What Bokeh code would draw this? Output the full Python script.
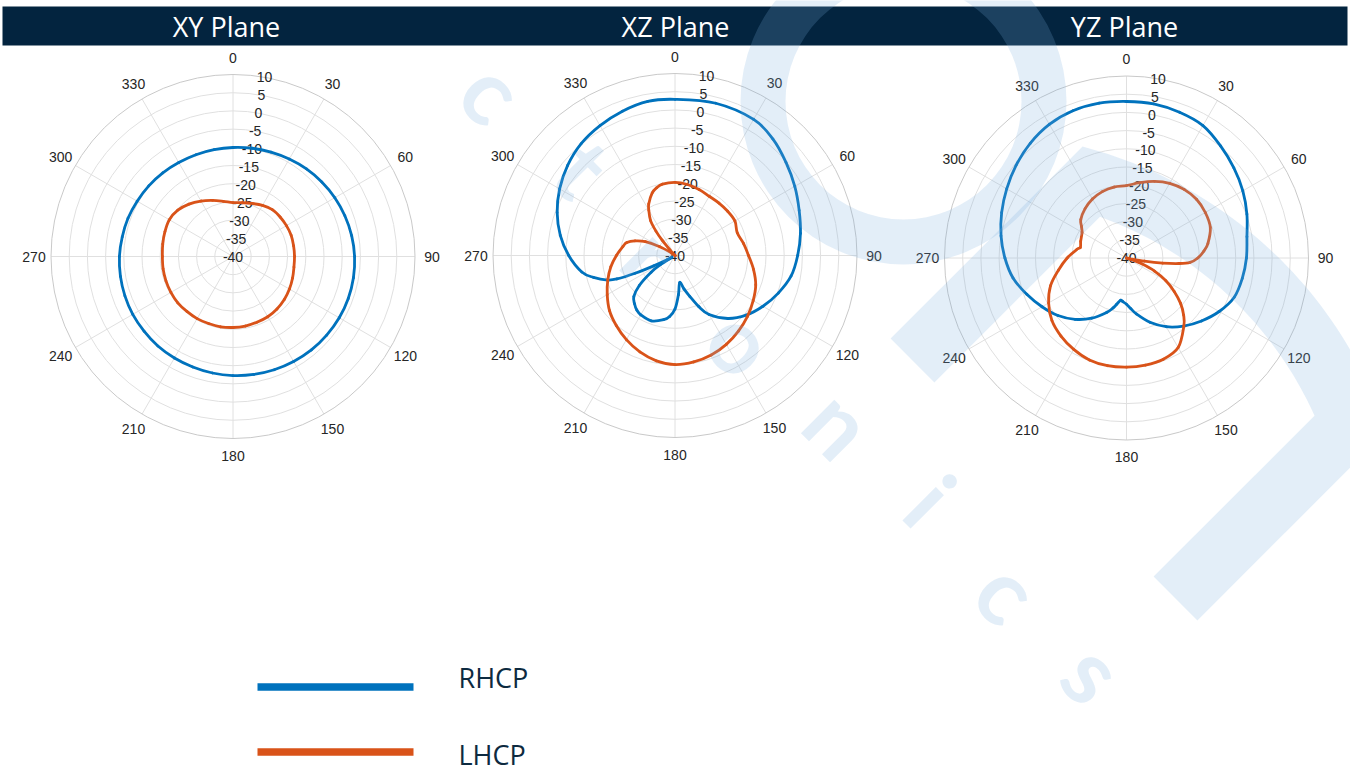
import numpy as np
from bokeh.plotting import figure
from bokeh.models import Range1d
from bokeh.embed import file_html
from bokeh.resources import INLINE
from bokeh.core.properties import value

# ---------------- data ----------------
plane_titles = ["XY Plane", "XZ Plane", "YZ Plane"]
series_names = ["RHCP", "LHCP"]
r_ticks = [10, 5, 0, -5, -10, -15, -20, -25, -30, -35, -40]
theta_ticks = [0, 30, 60, 90, 120, 150, 180, 210, 240, 270, 300, 330]

xy_rhcp_theta = list(range(0, 360, 10))
xy_rhcp_db = [-10.05, -9.8, -9.5, -9.1, -8.6, -8.15, -7.7, -7.3, -6.9, -6.6, -6.4, -6.3,
              -6.3, -6.4, -6.5, -6.7, -6.9, -7.1, -7.3, -7.5, -7.7, -7.8, -7.9, -8.1,
              -8.2, -8.4, -8.6, -8.8, -9.1, -9.3, -9.6, -9.8, -10.0, -10.2, -10.25, -10.2]

xy_lhcp_theta = list(range(0, 360, 10))
xy_lhcp_db = [-25.2, -25.0, -24.5, -23.8, -23.2, -23.1, -23.05, -23.0, -23.1, -23.1, -23.0, -22.6,
              -22.1, -21.6, -21.2, -20.9, -20.8, -20.6, -20.5, -20.4, -20.4, -20.3, -20.3, -20.2,
              -20.3, -20.4, -20.5, -20.6, -20.4, -20.1, -19.8, -20.2, -21.2, -22.4, -23.6, -24.6]

xz_rhcp_theta = [0, 15, 30, 40, 50, 60, 70, 80, 90, 100, 110, 120, 130, 140, 150, 155, 160, 165,
                 170, 175, 180, 185, 190, 200, 210, 215, 220, 225, 230, 235, 238, 240, 242, 244,
                 246, 248, 250, 255, 260, 270, 280, 290, 300, 310, 320, 330, 340, 350]
xz_rhcp_db = [2.9, 3.3, 3.2, 1.8, -0.2, -2.0, -3.7, -5.0, -6.3, -7.6, -9.8, -12.1, -14.5, -17.4,
              -21.3, -24.5, -28.0, -30.5, -32.5, -29.2, -25.3, -23.2, -22.1, -20.9, -21.2, -21.7,
              -22.7, -24.0, -27.2, -32.0, -35.5, -39.0, -37.5, -33.5, -28.0, -22.8, -20.3, -16.8,
              -14.0, -10.8, -8.0, -5.55, -3.4, -1.5, 0.1, 1.2, 2.2, 3.0]

xz_lhcp_theta = [0, 10, 20, 30, 40, 50, 60, 70, 80, 90, 100, 110, 120, 130, 140, 150, 160, 170,
                 180, 190, 200, 210, 220, 230, 240, 250, 260, 270, 280, 285, 290, 295, 300, 305,
                 310, 314, 316, 318, 320, 322, 325, 330, 333, 340, 345, 350]
xz_lhcp_db = [-19.9, -20.2, -20.7, -21.2, -21.2, -21.1, -21.0, -21.8, -20.9, -19.8, -18.1, -16.4,
              -15.2, -14.0, -12.9, -11.8, -10.9, -10.3, -10.0, -10.6, -11.8, -13.3, -14.9, -16.5,
              -18.5, -20.35, -22.1, -23.9, -25.5, -26.3, -28.3, -31.0, -35.2, -38.8, -40.0, -40.0,
              -39.5, -38.0, -34.5, -31.5, -28.3, -25.6, -24.1, -21.7, -20.7, -20.1]

yz_rhcp_theta = [0, 10, 20, 30, 40, 50, 60, 70, 80, 90, 100, 110, 120, 130, 140, 150, 160, 170,
                 175, 180, 185, 188, 192, 195, 200, 210, 220, 230, 240, 250, 260, 270, 280, 290,
                 300, 310, 320, 330, 340, 350]
yz_rhcp_db = [3.0, 3.0, 2.6, 2.0, 0.2, -1.5, -3.1, -4.8, -6.4, -7.05, -7.7, -8.5, -10.6, -13.1,
              -15.6, -18.2, -21.2, -24.4, -26.0, -27.3, -28.0, -28.3, -27.0, -25.8, -24.1, -20.9,
              -18.0, -15.4, -13.2, -10.85, -8.35, -6.6, -5.0, -3.5, -2.0, -0.4, 1.15, 2.4, 3.05, 3.2]

yz_lhcp_theta = [0, 10, 20, 30, 40, 50, 60, 70, 80, 85, 90, 94, 96, 98, 100, 102, 105, 108, 111,
                 115, 120, 125, 130, 135, 140, 150, 160, 170, 180, 190, 200, 210, 220, 230, 240,
                 250, 260, 270, 280, 283, 290, 300, 305, 310, 320, 330, 340, 350]
yz_lhcp_db = [-20.1, -19.0, -17.6, -16.3, -15.4, -14.9, -15.0, -15.5, -17.3, -18.7, -20.4, -22.5,
              -25.5, -30.0, -35.0, -39.0, -40.0, -38.5, -35.5, -31.5, -27.5, -24.0, -20.6, -17.8,
              -15.5, -11.6, -10.4, -10.1, -10.0, -9.95, -10.2, -11.0, -12.0, -13.25, -15.3, -17.8,
              -21.05, -23.7, -26.2, -27.0, -26.6, -25.9, -24.9, -23.6, -22.3, -21.3, -20.6, -20.2]

panels = [
    (xy_rhcp_theta, xy_rhcp_db, xy_lhcp_theta, xy_lhcp_db),
    (xz_rhcp_theta, xz_rhcp_db, xz_lhcp_theta, xz_lhcp_db),
    (yz_rhcp_theta, yz_rhcp_db, yz_lhcp_theta, yz_lhcp_db),
]

# ---------------- layout / style ----------------
W, H = 1350, 772
centers = [(232.5, 256.0), (674.5, 255.0), (1126.0, 257.5)]
title_x = [226, 675, 1124]
R = 182.0
RMIN, RMAX = -40.0, 10.0
BLUE = "#0072BD"
ORANGE = "#D95319"
NAVY = "#03243f"
GRID = "#e0e0e0"
EDGE = "#c9c9c9"
LABEL = "#262626"
WM = "#79aedd"
WM_ALPHA = 0.21

p = figure(width=W, height=H, output_backend="svg", toolbar_location=None,
           x_axis_location=None, y_axis_location=None, min_border=0,
           x_range=Range1d(0, W), y_range=Range1d(H, 0))
p.outline_line_color = None
p.grid.grid_line_color = None
p.background_fill_color = "white"
p.border_fill_color = "white"


def to_r(db):
    return (np.clip(np.asarray(db, dtype=float), RMIN, RMAX) - RMIN) / (RMAX - RMIN) * R


def polar(cx, cy, theta, db):
    th = np.radians(np.asarray(theta, dtype=float))
    r = to_r(db)
    return cx + r * np.sin(th), cy - r * np.cos(th)


def smooth_closed(x, y):
    """Catmull-Rom through the data points, drawn as cubic Bezier pieces."""
    n = len(x)
    i = np.arange(n)
    ip, inx, in2 = (i - 1) % n, (i + 1) % n, (i + 2) % n
    return dict(x0=x, y0=y, x1=x[inx], y1=y[inx],
                cx0=x + (x[inx] - x[ip]) / 6.0, cy0=y + (y[inx] - y[ip]) / 6.0,
                cx1=x[inx] - (x[in2] - x[i]) / 6.0, cy1=y[inx] - (y[in2] - y[i]) / 6.0)


# title bar
p.quad(left=2, right=1347, top=6, bottom=45, fill_color=NAVY, line_color=None)
p.text(x=title_x, y=[26] * 3, text=plane_titles, text_color="white",
       text_font=value("Open Sans"), text_font_size="27px",
       text_align="center", text_baseline="middle")

for (cx, cy), (rt, rd, lt, ld) in zip(centers, panels):
    ring_vals = [v for v in r_ticks if RMIN < v < RMAX]
    radii = to_r(ring_vals)
    p.circle(x=[cx] * len(radii), y=[cy] * len(radii), radius=radii,
             fill_color=None, line_color=GRID, line_width=1)
    th = np.radians(theta_ticks)
    p.segment(x0=[cx] * len(th), y0=[cy] * len(th),
              x1=cx + R * np.sin(th), y1=cy - R * np.cos(th),
              line_color=GRID, line_width=1)
    p.circle(x=[cx], y=[cy], radius=[R], fill_color=None, line_color=EDGE, line_width=1)
    p.text(x=cx + 199 * np.sin(th), y=cy - 199 * np.cos(th),
           text=[str(t) for t in theta_ticks], text_color=LABEL,
           text_font=value("Liberation Sans"), text_font_size="14px",
           text_align="center", text_baseline="middle")
    rl = to_r(r_ticks)
    a = np.radians(10)
    p.text(x=cx + rl * np.sin(a), y=cy - rl * np.cos(a),
           text=[str(v) for v in r_ticks], text_color=LABEL,
           text_font=value("Liberation Sans"), text_font_size="14px",
           text_align="center", text_baseline="middle")
    for tt, dd, col in ((rt, rd, BLUE), (lt, ld, ORANGE)):
        x, y = polar(cx, cy, tt, dd)
        p.bezier(**smooth_closed(x, y), line_color=col, line_width=2.8, line_cap="round")

# legend
p.segment(x0=[257, 257], y0=[686.5, 751.5], x1=[413, 413], y1=[686.5, 751.5],
          line_color=[BLUE, ORANGE], line_width=7.5)
p.text(x=[458, 458], y=[677, 754], text=series_names, text_color="#0d2a40",
       text_font=value("Open Sans"), text_font_size="27px",
       text_align="left", text_baseline="middle")

# ---------------- watermark (decoration, drawn translucent on top) ----------------
p.annulus(x=[903], y=[101], inner_radius=[118], outer_radius=[163],
          fill_color=WM, fill_alpha=WM_ALPHA, line_color=None)

u = np.array([1.0, -1.0]) / np.sqrt(2)   # stem direction (screen)
v = np.array([1.0, 1.0]) / np.sqrt(2)    # across stems
cn = np.array([972.0, 569.0])
r_in, r_out, half_w = 375.0, 437.0, 31.0
bl = np.array([912.0, 360.0])
br = np.array([1175.0, 598.0])


def hit(p0, rad):
    d = p0 - cn
    b = d @ u
    c = d @ d - rad * rad
    t = -b + np.sqrt(b * b - c)
    return p0 + t * u


def arc(pa, pb, rad, n=50):
    a0 = np.arctan2(pa[1] - cn[1], pa[0] - cn[0])
    a1 = np.arctan2(pb[1] - cn[1], pb[0] - cn[0])
    aa = np.linspace(a0, a1, n)
    return [cn + rad * np.array([np.cos(q), np.sin(q)]) for q in aa]


lo, li = bl - half_w * v, bl + half_w * v
ro, ri = br + half_w * v, br - half_w * v
lo_top, li_top = hit(lo, r_out), hit(li, r_in)
ro_top, ri_top = hit(ro, r_out), hit(ri, r_in)
pts = ([lo] + arc(lo_top, ro_top, r_out) + [ro, ri] + arc(ri_top, li_top, r_in) + [li])
pts = np.array(pts)
p.patch(pts[:, 0], pts[:, 1], fill_color=WM, fill_alpha=WM_ALPHA, line_color=None)

wm_letters = ["c", "t", "r", "o", "n", "i", "c", "s"]
wm_x = [493, 583, 652, 742, 840, 931, 1008, 1094]
wm_y = [90, 167, 253, 340, 422, 499, 590, 671]
p.text(x=wm_x, y=wm_y, text=wm_letters, angle=-np.pi / 4, text_color=WM,
       text_alpha=WM_ALPHA, text_font=value("Lato"), text_font_size="92px",
       text_font_style="bold", text_align="center", text_baseline="middle")

open("out.html", "w").write(file_html(p, INLINE))
